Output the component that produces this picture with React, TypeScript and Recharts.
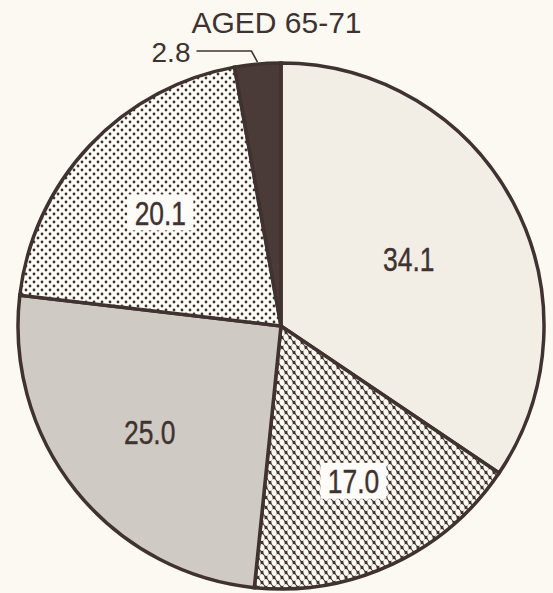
import React from "react";
import { Cell, Pie, PieChart } from "recharts";

// Pie of shares for one age band.
const CATEGORIES = ["Segment A", "Segment B", "Segment C", "Segment D", "Segment E"];
const VALUES = [34.1, 17.0, 25.0, 20.1, 2.8];
const TITLE = "AGED 65-71";

const data = CATEGORIES.map((name, i) => ({ name, value: VALUES[i] }));

const INK = "#3f3230";
const PAPER = "#fbf9f1";
const W = 553;
const H = 593;
const CX = 281;
const CY = 326;
const R = 263;

// fill per slice, in data order; patterned slices get a white box behind the label
const FILLS = ["#f2eee5", "url(#hatch)", "#cfcac3", "url(#dots)", "#4a3b39"];
const BOXED = [false, true, false, true, false];
// how far out from the centre each inside label sits (fraction of radius)
const LABEL_R = [0.55, 0.65, 0.64, 0.63, 0];

const RAD = Math.PI / 180;
const SANS = "'Liberation Sans', Arial, Helvetica, sans-serif";

function renderLabel(props: any) {
  const { cx, cy, midAngle, outerRadius, index, value } = props;
  const text = Number(value).toFixed(1);
  const cos = Math.cos(-midAngle * RAD);
  const sin = Math.sin(-midAngle * RAD);

  if (LABEL_R[index] === 0) {
    // small slice: leader line out to the upper left
    const x0 = cx + (outerRadius + 2) * cos;
    const y0 = cy + (outerRadius + 2) * sin;
    const x1 = x0 - 6;
    const y1 = y0 - 11;
    const x2 = x1 - 55;
    return (
      <g key={`l-${index}`}>
        <polyline
          points={`${x0},${y0} ${x1},${y1} ${x2},${y1}`}
          fill="none"
          stroke={INK}
          strokeWidth={1.6}
        />
        <text
          x={x2 - 6}
          y={y1 + 1}
          textAnchor="end"
          dominantBaseline="central"
          fontFamily={SANS}
          fontSize={28}
          fill={INK}
        >
          {text}
        </text>
      </g>
    );
  }

  const r = outerRadius * LABEL_R[index];
  const x = cx + r * cos;
  const y = cy + r * sin;
  return (
    <g key={`l-${index}`}>
      {BOXED[index] && (
        <rect x={x - 33} y={y - 18} width={66} height={36} fill="#fdfcf8" />
      )}
      {/* the print face is a condensed grotesque: squeeze a regular sans */}
      <text
        transform={`translate(${x} ${y + 1}) scale(0.8 1)`}
        textAnchor="middle"
        dominantBaseline="central"
        fontFamily={SANS}
        fontSize={33}
        fill={INK}
        stroke={INK}
        strokeWidth={0.4}
      >
        {text}
      </text>
    </g>
  );
}

export default function App() {
  return (
    <div
      style={{
        position: "absolute",
        left: 0,
        top: 0,
        width: W,
        height: H,
        background: PAPER,
        overflow: "hidden",
      }}
    >
      <svg width={0} height={0} style={{ position: "absolute" }} aria-hidden="true">
        <defs>
          <pattern id="dots" width={8} height={8} patternUnits="userSpaceOnUse">
            <rect width={8} height={8} fill="#fdfcf7" />
            <circle cx={2} cy={2} r={1.4} fill={INK} />
            <circle cx={6} cy={6} r={1.4} fill={INK} />
          </pattern>
          <pattern id="hatch" width={8} height={10} patternUnits="userSpaceOnUse">
            <rect width={8} height={10} fill={INK} />
            {[
              [2, 2.5],
              [6, 7.5],
              [6, -2.5],
              [-2, 7.5],
              [10, 12.5],
              [10, 2.5],
              [2, 12.5],
            ].map(([x, y]) => (
              <ellipse
                key={`${x}-${y}`}
                cx={x}
                cy={y}
                rx={2.5}
                ry={3.4}
                transform={`rotate(-18 ${x} ${y})`}
                fill={PAPER}
              />
            ))}
          </pattern>
        </defs>
      </svg>
      <div
        style={{
          position: "absolute",
          left: 0,
          top: 5,
          width: W,
          textAlign: "center",
          fontFamily: SANS,
          fontSize: 30,
          color: INK,
          lineHeight: "36px",
        }}
      >
        {TITLE}
      </div>
      <PieChart width={W} height={H} margin={{ top: 0, right: 0, bottom: 0, left: 0 }}>
        <Pie
          data={data}
          dataKey="value"
          nameKey="name"
          cx={CX}
          cy={CY}
          outerRadius={R}
          startAngle={90}
          endAngle={-270}
          stroke={INK}
          strokeWidth={3.5}
          label={renderLabel}
          labelLine={false}
          isAnimationActive={false}
        >
          {data.map((d, i) => (
            <Cell key={d.name} fill={FILLS[i]} />
          ))}
        </Pie>
      </PieChart>
    </div>
  );
}
